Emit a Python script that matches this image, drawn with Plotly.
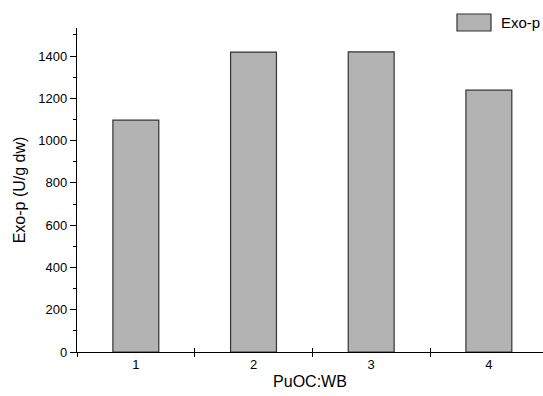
import plotly.graph_objects as go

categories = ["1", "2", "3", "4"]
x_positions = [1, 2, 3, 4]
exo_p = [1097, 1419, 1420, 1239]
series_name = "Exo-p"
y_ticks = [0, 200, 400, 600, 800, 1000, 1200, 1400]
boundaries = [0.5, 1.5, 2.5, 3.5]

FONT = "Liberation Sans, Arial, sans-serif"

fig = go.Figure()
fig.add_trace(go.Bar(
    x=x_positions, y=exo_p, name=series_name, width=0.39,
    marker=dict(color="#b3b3b3", line=dict(color="#333333", width=1.2)),
    showlegend=False,
))
# dummy trace on overlay axis so it renders
fig.add_trace(go.Scatter(x=[None], y=[None], xaxis="x2", showlegend=False))

xr = [0.5, 4.46]
fig.update_layout(
    width=543, height=396,
    margin=dict(l=77, r=0, t=28, b=44),
    paper_bgcolor="white", plot_bgcolor="white",
    font=dict(family=FONT, size=13, color="black"),
    xaxis=dict(
        range=xr, tickvals=x_positions, ticktext=categories, ticks="",
        showline=True, linecolor="black", linewidth=1.3, showgrid=False, zeroline=False,
        tickfont=dict(size=13),
        minor=dict(tickvals=boundaries, ticks="outside", ticklen=4, tickcolor="black", tickwidth=1.2, showgrid=False),
        title=dict(text="PuOC:WB", font=dict(size=16), standoff=5),
    ),
    xaxis2=dict(
        range=xr, overlaying="x", anchor="y", side="bottom",
        tickvals=boundaries, ticks="inside", ticklen=4, tickcolor="black", tickwidth=1.2,
        showticklabels=False, showline=False, showgrid=False, zeroline=False,
    ),
    yaxis=dict(
        range=[0, 1533], tickvals=y_ticks, ticks="outside", ticklen=6, tickwidth=1.2, tickcolor="black",
        showline=True, linecolor="black", linewidth=1.3, showgrid=False, zeroline=False,
        tickfont=dict(size=13),
        minor=dict(tick0=100, dtick=200, ticks="outside", ticklen=3, tickcolor="black", tickwidth=1, showgrid=False),
        title=dict(text="Exo-p (U/g dw)", font=dict(size=16), standoff=8),
    ),
    bargap=0.6,
)

# legend drawn as a box + label
fig.add_shape(type="rect", xref="paper", yref="paper",
              x0=(457 - 77) / 466, x1=(491 - 77) / 466,
              y0=(352 - 31) / 324, y1=(352 - 14) / 324,
              fillcolor="#b3b3b3", line=dict(color="#333333", width=1.2))
fig.add_annotation(text=series_name, xref="paper", yref="paper",
                   x=(499 - 77) / 466, y=(352 - 22.5) / 324, xanchor="left", yanchor="middle",
                   showarrow=False, font=dict(size=15, family=FONT))

fig.write_html("out.html")
